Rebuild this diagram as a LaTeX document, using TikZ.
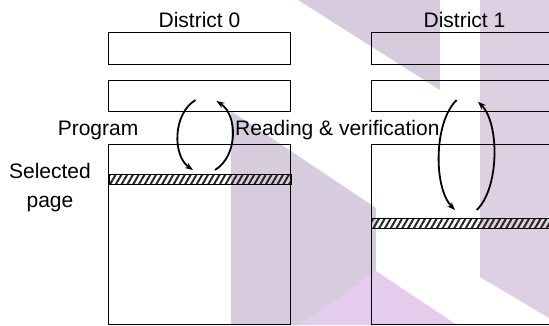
\documentclass[tikz,border=0pt]{standalone}
\usepackage{fontspec}
\setmainfont{Liberation Sans}
\usetikzlibrary{arrows.meta,positioning,patterns.meta}
\definecolor{wmgray}{RGB}{215,204,221}
\definecolor{wmmauve}{RGB}{221,208,226}
\definecolor{wmpink}{RGB}{227,204,236}

\begin{document}
\begin{tikzpicture}[x=1pt, y=-1pt,
  bank/.style={draw, line width=1pt, minimum width=182pt, inner sep=0pt, anchor=north west},
  pagestrip/.style={pattern={Lines[angle=60,distance=5pt,line width=2pt]}, pattern color=black!85},
  flow/.style={line width=1.8pt, -{Stealth[length=8pt,width=6pt]}},
  lbl/.style={inner sep=0pt, font=\fontsize{21}{28.4}\selectfont}]
\useasboundingbox (0,0) rectangle (549,325);
% background shapes
\fill[wmgray] (298,0) -- (440,0) -- (440,90) -- cycle;
\fill[wmgray] (231,111) -- (376,208) -- (376,272) -- (300,325) -- (231,325) -- cycle;
\fill[wmmauve] (480,0) -- (549,0) -- (549,318) -- (480,277) -- cycle;
\fill[wmpink] (300,325) -- (376,271) -- (457,325) -- cycle;
% district 0
\node[bank, minimum height=32pt] (top0) at (108,32) {};
\node[bank, minimum height=31pt] (mid0) at (108,80) {};
\node[bank, minimum height=180pt] (main0) at (108,144) {};
\node[bank, pagestrip, minimum height=10pt] (page0) at (108,173) {};
\node[lbl, above=4pt of top0] (name0) {District 0};
% district 1
\node[bank, minimum width=187pt, minimum height=32pt] (top1) at (370.5,32) {};
\node[bank, minimum width=187pt, minimum height=31pt] (mid1) at (370.5,80) {};
\node[bank, minimum width=187pt, minimum height=180pt] (main1) at (370.5,144) {};
\node[bank, pagestrip, minimum width=187pt, minimum height=10pt] (page1) at (370.5,218) {};
\node[lbl, above=4pt of top1] (name1) {District 1};
% labels
\node[lbl, anchor=base east] (prog) at (138.5,135) {Program};
\node[lbl, anchor=base west] (read) at (235,135) {Reading \& verification};
\node[lbl, align=center] (sel) at (50,187.4) {Selected\\page};
% arrow ends
\coordinate (p0s) at (195.5,100);
\coordinate (p0e) at (193,170);
\coordinate (r0s) at (215,170);
\coordinate (r0e) at (216.5,101);
\coordinate (p1s) at (456.7,100);
\coordinate (p1e) at (455,210);
\coordinate (r1s) at (476.7,210);
\coordinate (r1e) at (478,101.7);
\draw[flow] (p0s) .. controls (172.5,114) and (172.5,156) .. (p0e);
\draw[flow] (r0s) .. controls (238,156) and (238,115) .. (r0e);
\draw[flow] (p1s) .. controls (433.5,122) and (433.5,188) .. (p1e);
\draw[flow] (r1s) .. controls (499.6,188) and (499.6,123) .. (r1e);
\end{tikzpicture}
\end{document}
